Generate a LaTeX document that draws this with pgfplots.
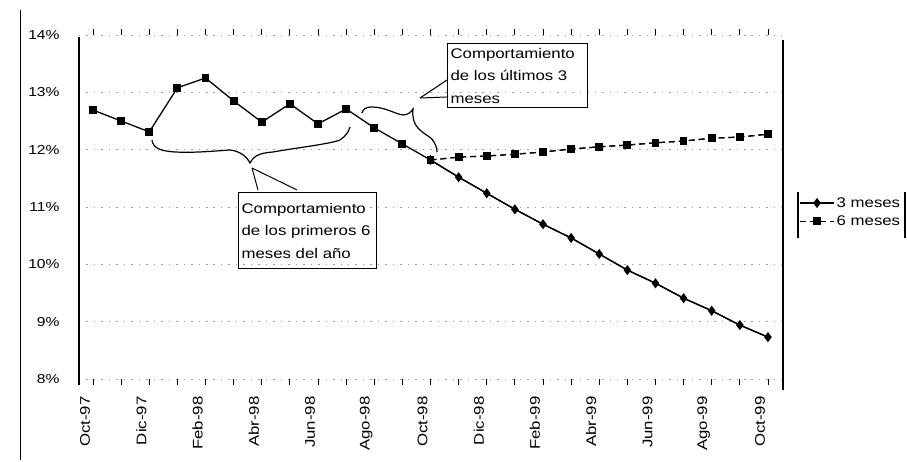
\documentclass[border=0pt]{standalone}
\usepackage{fontspec}
\setmainfont{Liberation Sans}[FakeStretch=1.2]
\usepackage{pgfplots}
\usepackage{pgfplotstable}
\pgfplotsset{compat=1.18}

% Tasa observada, oct-97 a oct-98 (índice de mes 0..12)
\pgfplotstableread{
x v
0 12.69
1 12.50
2 12.31
3 13.08
4 13.25
5 12.85
6 12.48
7 12.80
8 12.45
9 12.71
10 12.38
11 12.10
12 11.82
}\historia

% Proyección según el comportamiento de los últimos 3 meses
\pgfplotstableread{
x v
12 11.82
13 11.52
14 11.24
15 10.96
16 10.70
17 10.46
18 10.18
19 9.90
20 9.67
21 9.41
22 9.19
23 8.94
24 8.73
}\tresmeses

% Proyección según el comportamiento de los primeros 6 meses
\pgfplotstableread{
x v
12 11.82
13 11.87
14 11.89
15 11.92
16 11.96
17 12.01
18 12.05
19 12.08
20 12.12
21 12.15
22 12.20
23 12.22
24 12.27
}\seismeses

\begin{document}
\begin{tikzpicture}[x=1bp,y=1bp]
\useasboundingbox (0,0) rectangle (907,462);

\begin{axis}[
  at={(79bp,83bp)}, anchor=south west,
  scale only axis, width=703bp, height=344bp,
  xmin=-0.5, xmax=24.5, ymin=8, ymax=14,
  axis line style={draw=none},
  xtick={0,2,...,24},
  minor xtick={1,3,...,23},
  xticklabels={Oct-97,Dic-97,Feb-98,Abr-98,Jun-98,Ago-98,Oct-98,Dic-98,Feb-99,Abr-99,Jun-99,Ago-99,Oct-99},
  ytick={8,9,...,14},
  yticklabels={8\%,9\%,10\%,11\%,12\%,13\%,14\%},
  /pgf/number format/assume math mode=true,
  tick align=outside,
  major tick length=6bp, minor tick length=6bp,
  xtick style={black, line width=0.9pt},
  ytick style={draw=none},
  xticklabel style={yshift=-8bp, xshift=-8bp, rotate=90, anchor=east,
    font=\fontsize{14bp}{16bp}\selectfont},
  yticklabel style={xshift=-10bp, font=\fontsize{13bp}{15bp}\selectfont},
  ymajorgrids,
  major grid style={gray!75, line width=0.6pt, dash pattern=on 1.5pt off 6pt},
  clip=false,
  legend style={at={(axis description cs:1.023,0.485)}, anchor=west,
    draw=none, fill=none, font=\fontsize{14bp}{16bp}\selectfont,
    row sep=3bp, inner sep=1bp},
  legend cell align=left,
  legend image code/.code={%
    \draw[mark repeat=2,mark phase=2] plot coordinates {(0bp,0bp) (17bp,0bp) (34bp,0bp)};},
]
% trazos de las proyecciones
\addplot[black, line width=1.3pt, forget plot] table[x=x,y=v] {\tresmeses};
\addplot[black, line width=1.2pt, dash pattern=on 6pt off 4pt, forget plot] table[x=x,y=v] {\seismeses};
% serie observada
\addplot[black, line width=1.3pt, mark=square*, mark size=3.3bp, forget plot] table[x=x,y=v] {\historia};
% marcas de las proyecciones (desde nov-98)
\addplot[black, line width=1.3pt, mark=diamond*, mark size=4bp,
  mark options={solid}] table[x=x,y=v] {\tresmeses};
\addlegendentry{3 meses}
\addplot[black, line width=1.2pt, dash pattern=on 6pt off 4pt, mark=square*, mark size=3.3bp,
  mark options={solid}] table[x=x,y=v] {\seismeses};
\addlegendentry{6 meses}
\end{axis}

% bordes del área de trazado y del gráfico
\draw[line width=1.3pt] (79,425) -- (79,77);
\draw[line width=1.3pt] (783,422) -- (783,72);
\draw[line width=1pt] (20,452) -- (20,2);
% marco de la leyenda
\draw[line width=1.2pt] (798,270) -- (798,224);
\draw[line width=1.2pt] (905,270) -- (905,224);

% llave de los primeros 6 meses
\draw[line width=1.2pt] (152,322) .. controls (153,314) and (160,311) .. (175,310)
  .. controls (195,309) and (215,311) .. (230,312)
  .. controls (240,311) and (247,305) .. (250,299)
  .. controls (253,305) and (258,309) .. (273,310)
  .. controls (295,314) and (330,318) .. (340,322)
  .. controls (346,326) and (349,331) .. (350,335);
\draw[line width=1pt] (252,294) -- (258,272);
\draw[line width=1pt] (252,294) -- (297,272);
\node[draw, line width=1.2pt, anchor=north west, minimum width=138bp, minimum height=76bp,
  text width=132bp, align=left, inner sep=3bp,
  font=\fontsize{14bp}{22.5bp}\selectfont]
  at (238,270) {Comportamiento\\de los primeros 6\\meses del año};

% llave de los últimos 3 meses
\draw[line width=1.2pt] (362,349) .. controls (363,353) and (366,355) .. (372,355)
  .. controls (385,355) and (395,348) .. (403,347)
  .. controls (408,347) and (411,350) .. (413,353)
  .. controls (412,345) and (414,338) .. (418,334)
  .. controls (424,327) and (433,325) .. (435,318)
  .. controls (437,314) and (437,312) .. (437,310);
\draw[line width=1pt] (420,364) -- (447,382);
\draw[line width=1pt] (420,364) -- (447,365);
\node[draw, line width=1.2pt, anchor=north west, minimum width=140bp, minimum height=64bp,
  text width=134bp, align=left, inner sep=3bp,
  font=\fontsize{14bp}{22.5bp}\selectfont]
  at (447,419) {Comportamiento\\de los últimos 3\\meses};
\end{tikzpicture}
\end{document}
